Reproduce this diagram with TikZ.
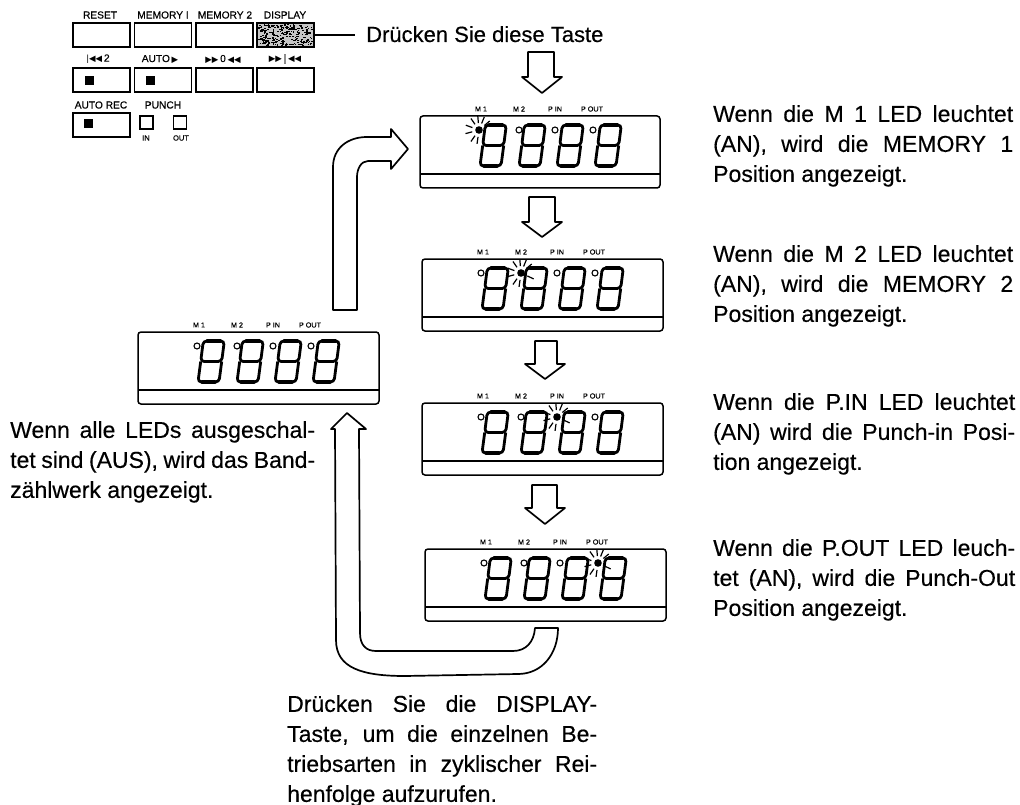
\documentclass[tikz,border=0pt]{standalone}
\usepackage{fontspec}
\setmainfont{Liberation Sans}[FakeBold=0.35]
\newfontfamily\symf{DejaVu Sans}
\newcommand{\tri}[1]{{\symf\fontsize{8.5}{9}\selectfont #1}}
\newcommand{\jl}[2]{\hbox to #1{\spaceskip=.278em plus 1fil minus .16em #2}}
% seven-segment digit, origin at its lower left corner; x grows by 0.13 per unit of height
\newcommand{\dgt}[2]{%
  \begin{scope}[shift={(#1,#2)},line width=2.8pt]
    \draw[rounded corners=3.5pt] (2.7,-20.5)--(5.3,-41)--(26.3,-41)--(23.7,-20.5)--cycle;
    \draw[rounded corners=3.5pt] (2.7,-20.5)--(0,0)--(21,0)--(23.7,-20.5);
    \draw[line width=3.4pt,line cap=round] (9.3,-41)--(22.3,-41) (4,0)--(17,0);
  \end{scope}}
\newcommand{\ledoff}[2]{\draw[line width=1.1pt] (#1,#2) circle (3pt);}
\newcommand{\ledon}[3]{%
  \fill (#1,#2) circle (3.8pt);
  \foreach \a in {40,68,95,125,160,195,235,262}{%
    \draw[line width=1.2pt] ($(#1,#2)+(\a:7pt)$) -- ($(#1,#2)+(\a:14pt)$);}
  \ifnum#3>1 \draw[line width=1.2pt] ($(#1,#2)+(-25:7pt)$) -- ($(#1,#2)+(-25:14pt)$);\fi}
% name, left, top, width, lit LED (0 = none)
\newcommand{\lcd}[5]{%
  \begin{scope}[shift={(#2,#3)}]
    \node[lcdbox,minimum width=#4pt] (#1) at (#4/2,36) {};
    \draw[line width=1.5pt] (0,58) -- (#4,58);
    \node[lcdlab] (#1m1) at (61,-7) {M 1};
    \node[lcdlab] (#1m2) at (99,-7) {M 2};
    \node[lcdlab] (#1pi) at (135,-7) {P IN};
    \node[lcdlab] (#1po) at (172,-7) {P OUT};
    \foreach \dx in {60,99,137,175}{\dgt{\dx}{50}}
    \foreach \px/\k in {59/1,99/2,135/3,173/4}{%
      \ifnum\k=#5 \ledon{\px}{14}{#5}\else\ledoff{\px}{14}\fi}
  \end{scope}}
\newcommand{\blockarrow}[7]{% cx shaftL shaftR top shoulder tip headhalf
  \draw[arrowline] (#2,#4)--(#3,#4)--(#3,#5)--(#1+#7,#5)--(#1,#6)--(#1-#7,#5)--(#2,#5)--cycle;}
\usetikzlibrary{calc}
\tikzset{
  btn/.style={draw,line width=1.9pt,minimum width=57pt,minimum height=24pt,inner sep=0pt},
  led/.style={fill=black,minimum size=9pt,inner sep=0pt},
  pad/.style={draw,line width=1.6pt,minimum size=13pt,inner sep=0pt},
  toplab/.style={font=\fontsize{10.2}{11}\selectfont,inner sep=0pt},
  lcdlab/.style={font=\fontsize{7.2}{8}\selectfont,inner sep=0pt},
  lcdbox/.style={draw,line width=1.5pt,rounded corners=3pt,minimum height=72pt,inner sep=0pt},
  arrowline/.style={line width=1.7pt,line join=round},
  body/.style={anchor=north west,inner sep=0pt,align=left,font=\fontsize{23}{30}\selectfont},
}
\begin{document}
\begin{tikzpicture}[x=1pt,y=-1pt]
\useasboundingbox (0,0) rectangle (1020,805);
\fill[white] (0,0) rectangle (1020,805);
% panel
\node[btn] (reset) at (101.5,35) {};
\node[btn] (mem1) at (163,35) {};
\node[btn] (mem2) at (224.5,35) {};
\fill[gray!45] (257,23) rectangle (314,47);
\pgfmathsetseed{7}
\foreach \i in {1,...,260}{%
  \pgfmathsetmacro{\xx}{258+rnd*54}\pgfmathsetmacro{\yy}{24+rnd*21}
  \fill (\xx,\yy) rectangle +(1.6,1.2);}
\node[btn] (disp) at (285.5,35) {};
\node[btn] (b5) at (101.5,80) {};
\node[btn] (b6) at (163,80) {};
\node[btn] (b7) at (224.5,80) {};
\node[btn] (b8) at (285.5,80) {};
\node[btn] (b9) at (101.5,125) {};
\node[led] (l5) at (89.5,80.5) {};
\node[led] (l6) at (150.5,80.5) {};
\node[led] (l9) at (88.5,124) {};
\node[pad] (pin) at (146.5,122.5) {};
\node[pad] (pout) at (180,122.5) {};
\node[toplab] (treset) at (100,15) {RESET};
\node[toplab] (tmem1) at (163,15) {MEMORY I};
\node[toplab] (tmem2) at (225,15) {MEMORY 2};
\node[toplab] (tdisp) at (285,15) {DISPLAY};
\node[toplab] (t5) at (98,59) {\tri{|◀◀}\,2};
\node[toplab] (t6) at (160,59) {AUTO\,\tri{▶}};
\node[toplab] (t7) at (223,59) {\tri{▶▶}\,0\,\tri{◀◀}};
\node[toplab] (t8) at (285,59) {\tri{▶▶}\,|\,\tri{◀◀}};
\node[toplab] (t9) at (101,105) {AUTO REC};
\node[toplab] (tp) at (163,105) {PUNCH};
\node[font=\fontsize{7.5}{8}\selectfont,inner sep=0pt] (tin) at (146,138) {IN};
\node[font=\fontsize{7.5}{8}\selectfont,inner sep=0pt] (tout) at (181,138) {OUT};
% press label
\node[anchor=base west,inner sep=0pt,font=\fontsize{22}{26}\selectfont] (taste) at (366,42) {Drücken Sie diese Taste};
\draw[line width=1.4pt,shorten >=11pt] (disp.east) -- (taste.west |- disp.east);
% displays
\lcd{da}{420}{116}{240}{1}
\lcd{db}{422}{259}{241}{2}
\lcd{dc}{422}{403}{241}{3}
\lcd{dd}{425}{549}{241}{4}
\lcd{dl}{138}{332}{241}{0}
% block arrows
\blockarrow{542}{528}{554}{52}{77}{93}{20}
\blockarrow{542}{529}{555}{197}{222}{237}{20}
\blockarrow{545}{535}{557}{341}{364}{379}{20}
\blockarrow{545}{532}{557}{485}{508}{524}{20}
% big arrows
\draw[arrowline] (333,310) -- (333,167) .. controls (333,148) and (348,137) .. (367,137)
  -- (391,137) -- (391,129) -- (408,149) -- (391,169) -- (391,161) -- (368,161)
  .. controls (361,161) and (357,169) .. (357,177) -- (357,310) -- cycle;
\draw[arrowline] (347,413) -- (366,429) -- (359,429) -- (360,633)
  .. controls (360,645) and (366,651) .. (376,651) -- (513,651)
  .. controls (526,651) and (534,642) .. (535,628) -- (558,628)
  .. controls (558,654) and (542,674) .. (518,674) -- (405,676)
  .. controls (362,676) and (336,668) .. (336,640) -- (335,429) -- (331,429) -- cycle;
% texts
\node[body] (p1) at (713,105) {\jl{300pt}{Wenn die M 1 LED leuchtet}\\\jl{300pt}{(AN), wird die MEMORY 1}\\Position angezeigt.};
\node[body] (p2) at (713,245) {\jl{300pt}{Wenn die M 2 LED leuchtet}\\\jl{300pt}{(AN), wird die MEMORY 2}\\Position angezeigt.};
\node[body] (p3) at (713,393) {\jl{302pt}{Wenn die P.IN LED leuchtet}\\\jl{302pt}{(AN) wird die Punch-in Posi-}\\tion angezeigt.};
\node[body] (p4) at (713,539) {\jl{302pt}{Wenn die P.OUT LED leuch-}\\\jl{302pt}{tet (AN), wird die Punch-Out}\\Position angezeigt.};
\node[body] (p5) at (10,421) {\jl{305pt}{Wenn alle LEDs ausgeschal-}\\\jl{305pt}{tet sind (AUS), wird das Band-}\\zählwerk angezeigt.};
\node[body] (p6) at (287,695) {\jl{310pt}{Drücken Sie die DISPLAY-}\\\jl{310pt}{Taste, um die einzelnen Be-}\\\jl{310pt}{triebsarten in zyklischer Rei-}\\henfolge aufzurufen.};
\end{tikzpicture}
\end{document}
